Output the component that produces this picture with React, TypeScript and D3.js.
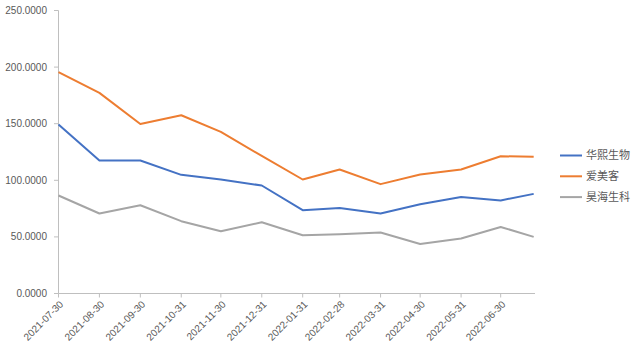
import * as d3 from "d3";

const DATES = [
  "2021-07-30", "2021-08-30", "2021-09-30", "2021-10-31", "2021-11-30", "2021-12-31",
  "2022-01-31", "2022-02-28", "2022-03-31", "2022-04-30", "2022-05-31", "2022-06-30",
  "2022-07-25",
];

// labelled ticks (the last data point has no label)
const TICK_DATES = DATES.slice(0, 12);

const HUAXI = [149.3, 117.5, 117.5, 104.8, 100.7, 95.4, 73.6, 75.6, 70.7, 78.9, 85.3, 82.2, 88.0];
const AIMEIKE = [195.5, 177.2, 149.8, 157.5, 142.8, 121.5, 100.7, 109.5, 96.6, 105.1, 109.5, 121.3, 120.7];
const HAOHAI = [86.6, 70.7, 78.0, 63.9, 55.0, 63.0, 51.5, 52.4, 53.9, 43.8, 48.6, 58.8, 50.0];

const SERIES = [
  { name: "华熙生物", values: HUAXI, color: "#4472C4" },
  { name: "爱美客", values: AIMEIKE, color: "#ED7D31" },
  { name: "昊海生科", values: HAOHAI, color: "#A5A5A5" },
];

const Y_TICKS = [0, 50, 100, 150, 200, 250];

const W = 640;
const H = 353;
const AXIS = "#BFBFBF";
const TEXT = "#595959";

export default function App() {
  const parse = d3.utcParse("%Y-%m-%d");
  const dates = DATES.map((d) => parse(d) as Date);
  const tickDates = TICK_DATES.map((d) => parse(d) as Date);
  const end = d3.utcDay.offset(dates[dates.length - 1], 1);

  const x = d3.scaleUtc().domain([dates[0], end]).range([58.5, 535]);
  const y = d3.scaleLinear().domain([0, 250]).range([293.5, 10.5]);
  const fmt = d3.format(".4f");

  const line = (vals: number[]) =>
    d3.line<number>()
      .x((_, i) => x(dates[i]))
      .y((v) => y(v))(vals) ?? "";

  return (
    <svg
      width={W}
      height={H}
      style={{ position: "absolute", left: 0, top: 0, background: "#fff" }}
      fontFamily="'Liberation Sans', Arial, sans-serif"
    >
      {/* y axis */}
      <line x1={58.5} x2={58.5} y1={y(250)} y2={y(0)} stroke={AXIS} />
      {Y_TICKS.map((t) => (
        <g key={t}>
          <line x1={54} x2={58.5} y1={y(t)} y2={y(t)} stroke={AXIS} />
          <text x={47} y={y(t)} dy="0.35em" textAnchor="end" fontSize={10} fill={TEXT}>
            {fmt(t)}
          </text>
        </g>
      ))}

      {/* x axis */}
      <line x1={58.5} x2={535} y1={y(0)} y2={y(0)} stroke={AXIS} />
      {tickDates.map((d, i) => (
        <g key={i} transform={`translate(${x(d)},${y(0)})`}>
          <line y1={0} y2={4} stroke={AXIS} />
          <text
            transform="translate(3,9) rotate(-45)"
            textAnchor="end"
            dy="0.35em"
            fontSize={10}
            fill={TEXT}
          >
            {TICK_DATES[i]}
          </text>
        </g>
      ))}

      {/* lines */}
      {SERIES.map((s) => (
        <path
          key={s.name}
          d={line(s.values)}
          fill="none"
          stroke={s.color}
          strokeWidth={2}
          strokeLinejoin="round"
        />
      ))}

      {/* legend */}
      {SERIES.map((s, i) => (
        <g key={s.name} transform={`translate(560,${155.5 + i * 20.8})`}>
          <line x1={0} x2={22} stroke={s.color} strokeWidth={2} />
          <text
            x={26}
            dy="0.35em"
            fontSize={11}
            fill={TEXT}
            fontFamily="'Noto Sans CJK SC', sans-serif"
          >
            {s.name}
          </text>
        </g>
      ))}
    </svg>
  );
}
